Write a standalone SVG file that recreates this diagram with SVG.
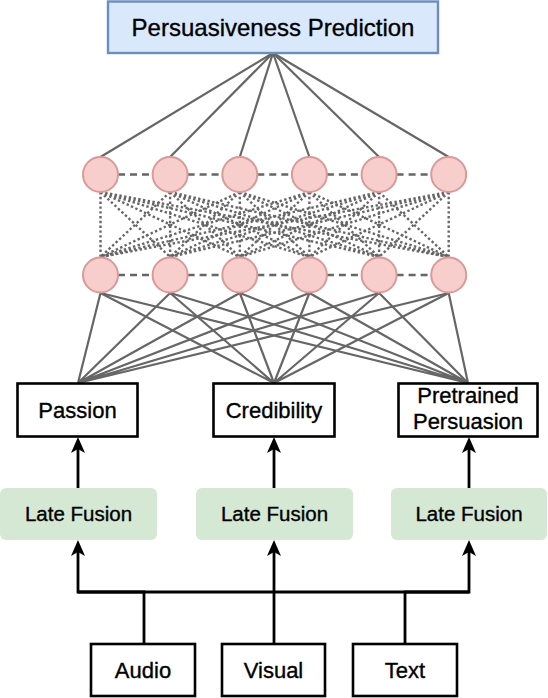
<svg xmlns="http://www.w3.org/2000/svg" width="548" height="698" viewBox="0 0 548 698">
<style>
text{font-family:"Liberation Sans",Arial,Helvetica,sans-serif;fill:#000;stroke:#000;stroke-width:0.35;text-anchor:middle}
.box{fill:#fff;stroke:#000;stroke-width:2.6}
.lf{fill:#d5e8d4;stroke:none}
.neu{fill:#f8cecc;stroke:#d99a98;stroke-width:2}
.g{stroke:#666;stroke-width:2.2;fill:none}
.dash{stroke:#666;stroke-width:2.4;stroke-dasharray:7 5;fill:none}
.dot{stroke:#666;stroke-width:2.4;stroke-dasharray:2.4 2.4;fill:none}
.blk{stroke:#000;stroke-width:2.8;fill:none}
.arr{stroke:#000;stroke-width:2.8;fill:none;marker-end:url(#ah)}
</style>
<defs>
<marker id="ah" viewBox="0 0 16 14" refX="10" refY="7" markerWidth="16" markerHeight="14" markerUnits="userSpaceOnUse" orient="auto">
<path d="M0,0 L16,7 L0,14 L4,7 Z" fill="#000"/>
</marker>
</defs>
<g id="connectors">
<g id="top-links">
<path class="g" d="M273,53 L100.5,157"/>
<path class="g" d="M273,53 L170.1,157"/>
<path class="g" d="M273,53 L239.8,157"/>
<path class="g" d="M273,53 L309.4,157"/>
<path class="g" d="M273,53 L379.1,157"/>
<path class="g" d="M273,53 L448.7,157"/>
</g>
<g id="dashed-rows">
<path class="dash" d="M118,174.5 H152.6 M187.6,174.5 H222.3 M257.3,174.5 H291.9 M326.9,174.5 H361.6 M396.6,174.5 H431.2"/>
<path class="dash" d="M118,275 H152.6 M187.6,275 H222.3 M257.3,275 H291.9 M326.9,275 H361.6 M396.6,275 H431.2"/>
</g>
<g id="dotted-links">
<path class="dot" d="M100.5,192 L100.5,257 M100.5,192 L170.1,257 M100.5,192 L239.8,257 M100.5,192 L309.4,257 M100.5,192 L379.1,257 M100.5,192 L448.7,257"/>
<path class="dot" d="M170.1,192 L100.5,257 M170.1,192 L170.1,257 M170.1,192 L239.8,257 M170.1,192 L309.4,257 M170.1,192 L379.1,257 M170.1,192 L448.7,257"/>
<path class="dot" d="M239.8,192 L100.5,257 M239.8,192 L170.1,257 M239.8,192 L239.8,257 M239.8,192 L309.4,257 M239.8,192 L379.1,257 M239.8,192 L448.7,257"/>
<path class="dot" d="M309.4,192 L100.5,257 M309.4,192 L170.1,257 M309.4,192 L239.8,257 M309.4,192 L309.4,257 M309.4,192 L379.1,257 M309.4,192 L448.7,257"/>
<path class="dot" d="M379.1,192 L100.5,257 M379.1,192 L170.1,257 M379.1,192 L239.8,257 M379.1,192 L309.4,257 M379.1,192 L379.1,257 M379.1,192 L448.7,257"/>
<path class="dot" d="M448.7,192 L100.5,257 M448.7,192 L170.1,257 M448.7,192 L239.8,257 M448.7,192 L309.4,257 M448.7,192 L379.1,257 M448.7,192 L448.7,257"/>
</g>
<g id="bottom-links">
<path class="g" d="M100.5,293 L78,383 M170.1,293 L78,383 M239.8,293 L78,383 M309.4,293 L78,383 M379.1,293 L78,383 M448.7,293 L78,383"/>
<path class="g" d="M100.5,293 L274,383 M170.1,293 L274,383 M239.8,293 L274,383 M309.4,293 L274,383 M379.1,293 L274,383 M448.7,293 L274,383"/>
<path class="g" d="M100.5,293 L468,383 M170.1,293 L468,383 M239.8,293 L468,383 M309.4,293 L468,383 M379.1,293 L468,383 M448.7,293 L468,383"/>
</g>
<g id="arrows">
<path class="arr" d="M78,488 V443"/>
<path class="arr" d="M274,488 V443"/>
<path class="arr" d="M469,488 V443"/>
<path class="arr" d="M144,643 V592 H78 V546"/>
<path class="arr" d="M274,643 V546"/>
<path class="arr" d="M405,643 V592 H469 V546"/>
<path class="blk" d="M78,592 H469"/>
</g>
</g>
<g id="prediction">
<rect x="108" y="1.5" width="330" height="51.5" fill="#dae8fc" stroke="#6c8ebf" stroke-width="2.4"/>
<text x="273" y="36" font-size="24">Persuasiveness Prediction</text>
</g>
<g id="neurons-top">
<circle class="neu" cx="100.5" cy="174.5" r="17.5"/>
<circle class="neu" cx="170.1" cy="174.5" r="17.5"/>
<circle class="neu" cx="239.8" cy="174.5" r="17.5"/>
<circle class="neu" cx="309.4" cy="174.5" r="17.5"/>
<circle class="neu" cx="379.1" cy="174.5" r="17.5"/>
<circle class="neu" cx="448.7" cy="174.5" r="17.5"/>
</g>
<g id="neurons-bottom">
<circle class="neu" cx="100.5" cy="275" r="17.5"/>
<circle class="neu" cx="170.1" cy="275" r="17.5"/>
<circle class="neu" cx="239.8" cy="275" r="17.5"/>
<circle class="neu" cx="309.4" cy="275" r="17.5"/>
<circle class="neu" cx="379.1" cy="275" r="17.5"/>
<circle class="neu" cx="448.7" cy="275" r="17.5"/>
</g>
<g id="passion">
<rect class="box" x="17.5" y="383.5" width="120" height="53"/>
<text x="77.5" y="418" font-size="22">Passion</text>
</g>
<g id="credibility">
<rect class="box" x="213.5" y="383.5" width="121" height="53"/>
<text x="274" y="418" font-size="22">Credibility</text>
</g>
<g id="pretrained">
<rect class="box" x="398.5" y="383.5" width="139" height="53"/>
<text x="468" y="403" font-size="22">Pretrained</text>
<text x="468" y="429" font-size="22">Persuasion</text>
</g>
<g id="late-fusion-1">
<rect class="lf" x="0" y="488" width="157" height="52" rx="6"/>
<text x="78.5" y="521" font-size="20.5">Late Fusion</text>
</g>
<g id="late-fusion-2">
<rect class="lf" x="196" y="488" width="157" height="52" rx="6"/>
<text x="274.5" y="521" font-size="20.5">Late Fusion</text>
</g>
<g id="late-fusion-3">
<rect class="lf" x="391" y="488" width="156" height="52" rx="6"/>
<text x="469" y="521" font-size="20.5">Late Fusion</text>
</g>
<g id="audio">
<rect class="box" x="91" y="644" width="104" height="52" stroke-width="3"/>
<text x="143" y="678" font-size="22">Audio</text>
</g>
<g id="visual">
<rect class="box" x="222" y="644" width="103" height="52" stroke-width="3"/>
<text x="273.5" y="678" font-size="22">Visual</text>
</g>
<g id="text">
<rect class="box" x="353" y="644" width="104" height="52" stroke-width="3"/>
<text x="405" y="678" font-size="22">Text</text>
</g>
</svg>
